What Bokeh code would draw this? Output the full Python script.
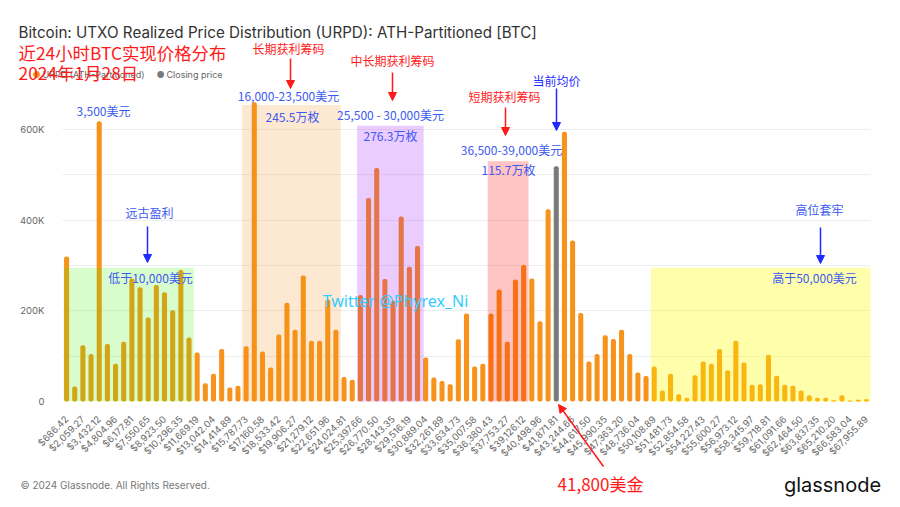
import math
from bokeh.plotting import figure
from bokeh.models import (FixedTicker, Label, Arrow, NormalHead, BoxAnnotation,
                          ColumnDataSource, Range1d, VBar, Grid)
from bokeh.embed import file_html
from bokeh.resources import INLINE

# ---------------- data ----------------
price_labels = [
    "$686.42", "$2,059.27", "$3,432.12", "$4,804.96", "$6,177.81", "$7,550.65",
    "$8,923.50", "$10,296.35", "$11,669.19", "$13,042.04", "$14,414.89", "$15,787.73",
    "$17,160.58", "$18,533.42", "$19,906.27", "$21,279.12", "$22,651.96", "$24,024.81",
    "$25,397.66", "$26,770.50", "$28,143.35", "$29,516.19", "$30,889.04", "$32,261.89",
    "$33,634.73", "$35,007.58", "$36,380.43", "$37,753.27", "$39,126.12", "$40,498.96",
    "$41,871.81", "$43,244.66", "$44,617.50", "$45,990.35", "$47,363.20", "$48,736.04",
    "$50,108.89", "$51,481.73", "$52,854.58", "$54,227.43", "$55,600.27", "$56,973.12",
    "$58,345.97", "$59,718.81", "$61,091.66", "$62,464.50", "$63,837.35", "$65,210.20",
    "$66,583.04", "$67,955.89",
]

supply = [
    320000, 33000, 124000, 105000, 618000, 127000, 83000, 132000, 271000, 252000,
    185000, 257000, 241000, 201000, 290000, 141000, 108000, 40000, 61000, 116000,
    31000, 35000, 122000, 660000, 110000, 75000, 148000, 218000, 158000, 278000,
    134000, 134000, 225000, 158000, 54000, 48000, 235000, 449000, 515000, 270000,
    222000, 408000, 297000, 343000, 97000, 53000, 45000, 38000, 137000, 194000,
    77000, 83000, 194000, 247000, 132000, 269000, 301000, 271000, 177000, 424000,
    519000, 595000, 355000, 195000, 88000, 105000, 146000, 138000, 158000, 105000,
    64000, 56000, 77000, 24000, 61000, 16000, 8000, 58000, 88000, 83000,
    116000, 69000, 134000, 86000, 37000, 38000, 103000, 57000, 37000, 35000,
    24000, 14000, 8000, 8000, 3000, 14000, 2000, 4000, 5000,
]
closing_index = 60

y_ticks = [0, 200000, 400000, 600000]
y_tick_labels = ["0", "200K", "400K", "600K"]
grid_ticks = [100000, 200000, 300000, 400000, 500000, 600000]

# highlighted ranges (bar index from/to, height, colour, alpha)
zones = [
    (-0.35, 15.6, 295000, "#40f000", 0.20),
    (21.5, 33.6, 654000, "#F7931A", 0.20),
    (35.6, 43.75, 608000, "#9600ff", 0.20),
    (51.6, 56.6, 530000, "#ff0000", 0.23),
    (71.6, 98.5, 295000, "#ffff00", 0.33),
]

# ---------------- figure ----------------
W, H = 900, 507
N = len(supply)
FRAME_L, FRAME_R, ZERO_Y = 62, 870, 401     # pixel positions of plot area
UX = (FRAME_R - FRAME_L) / N                 # px per bar slot
UY = 0.4535 / 1000                           # px per BTC

x_range = Range1d(-0.5 - FRAME_L / UX, N - 0.5 + (W - FRAME_R) / UX)
y_range = Range1d(-(H - ZERO_Y) / UY, ZERO_Y / UY)

ORANGE = "#F7931A"
colors = ["#7a7a7a" if i == closing_index else ORANGE for i in range(N)]
src = ColumnDataSource(dict(x=list(range(N)), top=supply, color=colors))

p = figure(width=W, height=H, output_backend="svg", toolbar_location=None,
           x_range=x_range, y_range=y_range, min_border=0)
p.title.visible = False
p.outline_line_color = None
p.background_fill_color = "white"
p.border_fill_color = "white"

# grid lines limited to the plot area
p.xgrid.visible = False
p.ygrid.visible = False
if "cross_bounds" in Grid.properties():
    g = Grid(dimension=1, ticker=FixedTicker(ticks=grid_ticks), cross_bounds=(-0.5, N - 0.5),
             grid_line_color="#eeeeee")
    p.add_layout(g)
else:
    p.segment(x0=[-0.5] * len(grid_ticks), x1=[N - 0.5] * len(grid_ticks),
              y0=grid_ticks, y1=grid_ticks, line_color="#eeeeee", line_width=1)

bar_kw = dict(x="x", top="top", width=0.62, fill_color="color", line_color=None, source=src)
if "border_radius" in VBar.properties():
    bar_kw["border_radius"] = 2
p.vbar(**bar_kw)

for l, r, t, c, a in zones:
    p.add_layout(BoxAnnotation(left=l, right=r, bottom=0, top=t, fill_color=c,
                               fill_alpha=a, line_alpha=0))

# axes, pinned to the plot area
p.xaxis.fixed_location = 0
p.yaxis.fixed_location = -0.5
p.yaxis.ticker = FixedTicker(ticks=y_ticks)
p.yaxis.major_label_overrides = {t: s for t, s in zip(y_ticks, y_tick_labels)}
p.xaxis.ticker = FixedTicker(ticks=[2 * i for i in range(len(price_labels))])
p.xaxis.major_label_overrides = {2 * i: s for i, s in enumerate(price_labels)}
p.xaxis.major_label_orientation = math.pi / 4
for ax in (p.xaxis, p.yaxis):
    ax.axis_line_color = None
    ax.major_tick_line_color = None
    ax.minor_tick_line_color = None
    ax.major_label_text_font = "Inter"
    ax.major_label_text_font_size = "9.5px"
    ax.major_label_text_color = "#666666"
p.xaxis.major_label_standoff = 10
p.yaxis.major_label_standoff = 12

# ---------------- annotations (pixel positions on the canvas) ----------------


def lab(x, y, text, size, color, font="Noto Sans CJK SC", align="center", style="normal"):
    p.add_layout(Label(x=x, y=H - y, x_units="screen", y_units="screen",
                       text=text, text_font=font, text_font_size=f"{size}px",
                       text_color=color, text_align=align, text_baseline="middle",
                       text_font_style=style))


def arrow(x0, y0, x1, y1, color):
    p.add_layout(Arrow(x_start=x0, y_start=H - y0, x_end=x1, y_end=H - y1,
                       start_units="screen", end_units="screen", line_color=color,
                       line_width=1.5,
                       end=NormalHead(size=8, fill_color=color, line_color=color)))


RED = "#ff1a1a"
BLUE = "#3d5af1"
DBLUE = "#1f2bff"

lab(18, 32, "Bitcoin: UTXO Realized Price Distribution (URPD): ATH-Partitioned [BTC]",
    15.2, "#333333", font="Inter", align="left")
# legend
lab(36, 74, "●", 9, ORANGE, font="Inter")
lab(42, 74, "URPD (ATH-Partitioned)", 9, "#666666", font="Inter", align="left")
lab(160, 74, "●", 9, "#7a7a7a", font="Inter")
lab(166, 74, "Closing price", 9, "#666666", font="Inter", align="left")

lab(18, 52, "近24小时BTC实现价格分布", 17.4, RED, align="left")
lab(18, 72, "2024年1月28日", 17.4, RED, align="left")

lab(288, 48, "长期获利筹码", 12, RED)
arrow(290, 58, 290, 88, RED)
lab(288, 95, "16,000-23,500美元", 12, BLUE)
lab(292, 116, "245.5万枚", 12, BLUE)

lab(392, 60, "中长期获利筹码", 12, RED)
arrow(392, 72, 392, 100, RED)
lab(390, 114, "25,500 - 30,000美元", 12, BLUE)
lab(390, 135, "276.3万枚", 12, BLUE)

lab(504, 96, "短期获利筹码", 12, RED)
arrow(505, 107, 505, 135, RED)
lab(511, 149, "36,500-39,000美元", 12, BLUE)
lab(508, 169, "115.7万枚", 12, BLUE)

lab(556, 80, "当前均价", 12, DBLUE)
arrow(556, 88, 556, 130, DBLUE)

lab(103, 110, "3,500美元", 12, BLUE)
lab(149, 212, "远古盈利", 12, BLUE)
arrow(147, 226, 147, 262, DBLUE)
lab(150, 277, "低于10,000美元", 12, BLUE)

lab(819, 209, "高位套牢", 12, BLUE)
arrow(820, 227, 820, 263, DBLUE)
lab(814, 277, "高于50,000美元", 12, BLUE)

lab(395, 300, "Twitter @Phyrex_Ni", 16, "#33ccff", font="Noto Sans")

arrow(603, 466, 558, 404, RED)
lab(600, 483, "41,800美金", 17, RED)

lab(20, 484, "© 2024 Glassnode. All Rights Reserved.", 10, "#777777", font="Inter", align="left")
lab(832, 484, "glassnode", 20, "#111111", font="Inter")

open("out.html", "w").write(file_html(p, INLINE))
